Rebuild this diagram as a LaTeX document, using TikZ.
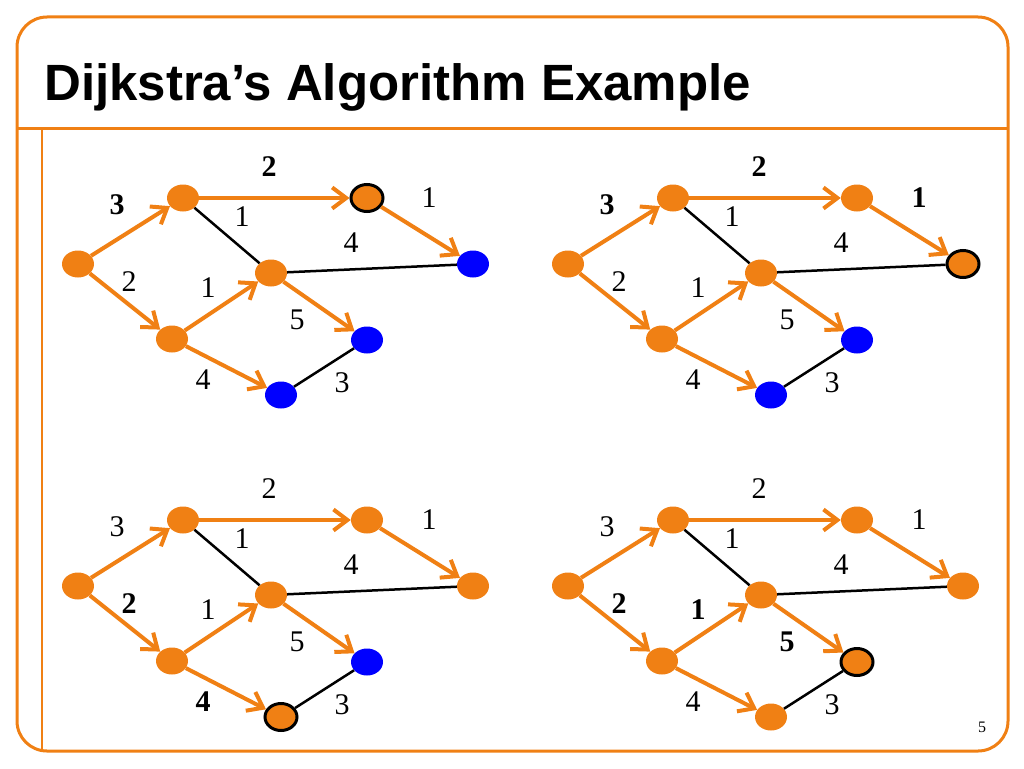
\documentclass[tikz,border=0pt]{standalone}
\usepackage{fontspec}
\setmainfont{Liberation Serif}
\newfontfamily\headfont{Liberation Sans}
\usetikzlibrary{arrows.meta,shapes.geometric}
\definecolor{dorange}{RGB}{240,128,20}

\begin{document}
\begin{tikzpicture}[x=1pt,y=-1pt]

\tikzset{vertex/.style = {shape=ellipse,fill=dorange,minimum width=32pt,minimum height=27pt,inner sep=0pt}}
\tikzset{open/.style = {fill=blue}}
\tikzset{current/.style = {draw=black,line width=3pt}}
\tikzset{edge/.style = {->,> = {Straight Barb[length=14pt,width=21pt]},dorange,line width=4pt}}
\tikzset{plain/.style = {black,line width=2.5pt}}
\tikzset{weight/.style = {inner sep=0pt,font=\fontsize{30}{36}\selectfont}}
\tikzset{heavy/.style = {font=\fontsize{30}{36}\selectfont\bfseries}}
% what each step shows: blue vertices, the vertex just taken, bold weights
\tikzset{st d1/.style=open, st f1/.style=open, st g1/.style=open, st b1/.style=current,
  st f2/.style=open, st g2/.style=open, st d2/.style=current,
  st f3/.style=open, st g3/.style=current, st f4/.style=current}
\tikzset{st sa1/.style=heavy, st ab1/.style=heavy, st sa2/.style=heavy, st ab2/.style=heavy,
  st bd2/.style=heavy, st se3/.style=heavy, st eg3/.style=heavy, st se4/.style=heavy,
  st ec4/.style=heavy, st cf4/.style=heavy}

\useasboundingbox (0,0) rectangle (1024,768);
\draw[dorange,line width=3pt,rounded corners=30pt] (17,17) rectangle (1008,751);
\draw[dorange,line width=3pt] (17,128) -- (1008,128);
\draw[dorange,line width=2.5pt] (42,128) -- (42,751);
\node[anchor=base west,inner sep=0pt,font=\headfont\bfseries\fontsize{51}{60}\selectfont] (title) at (44,100) {Dijkstra’s Algorithm Example};
\node[inner sep=0pt,font=\fontsize{16}{19}\selectfont] (page) at (982,727) {5};

\foreach \p/\dx/\dy in {1/0/0, 2/490/0, 3/0/322, 4/490/322}{
\begin{scope}[shift={(\dx,\dy)}]
\foreach \pos/\name in {{(78,264)/s}, {(183,198)/a}, {(367,198)/b}, {(271,273)/c},
  {(473,264)/d}, {(172,339)/e}, {(367,340)/f}, {(281,395)/g}}
\node[vertex, st \name\p/.try] (\name\p) at \pos {};

\foreach \from/\to in {s/a, s/e, a/b, b/d, e/c, e/g, c/f}
\draw [edge] (\from\p) to (\to\p);
\foreach \from/\to in {a/c, c/d, g/f}
\draw [plain] (\from\p) to (\to\p);

\foreach \pos/\edge/\w in {{(117,205)/sa/3}, {(269,167)/ab/2}, {(429,198)/bd/1},
  {(242,217)/ac/1}, {(351,243)/cd/4}, {(129,282)/se/2}, {(208,288)/ec/1},
  {(297,320)/cf/5}, {(203,380)/eg/4}, {(342,383)/gf/3}}
\node[weight, st \edge\p/.try] (w\edge\p) at \pos {\w};
\end{scope}
}
\end{tikzpicture}
\end{document}
